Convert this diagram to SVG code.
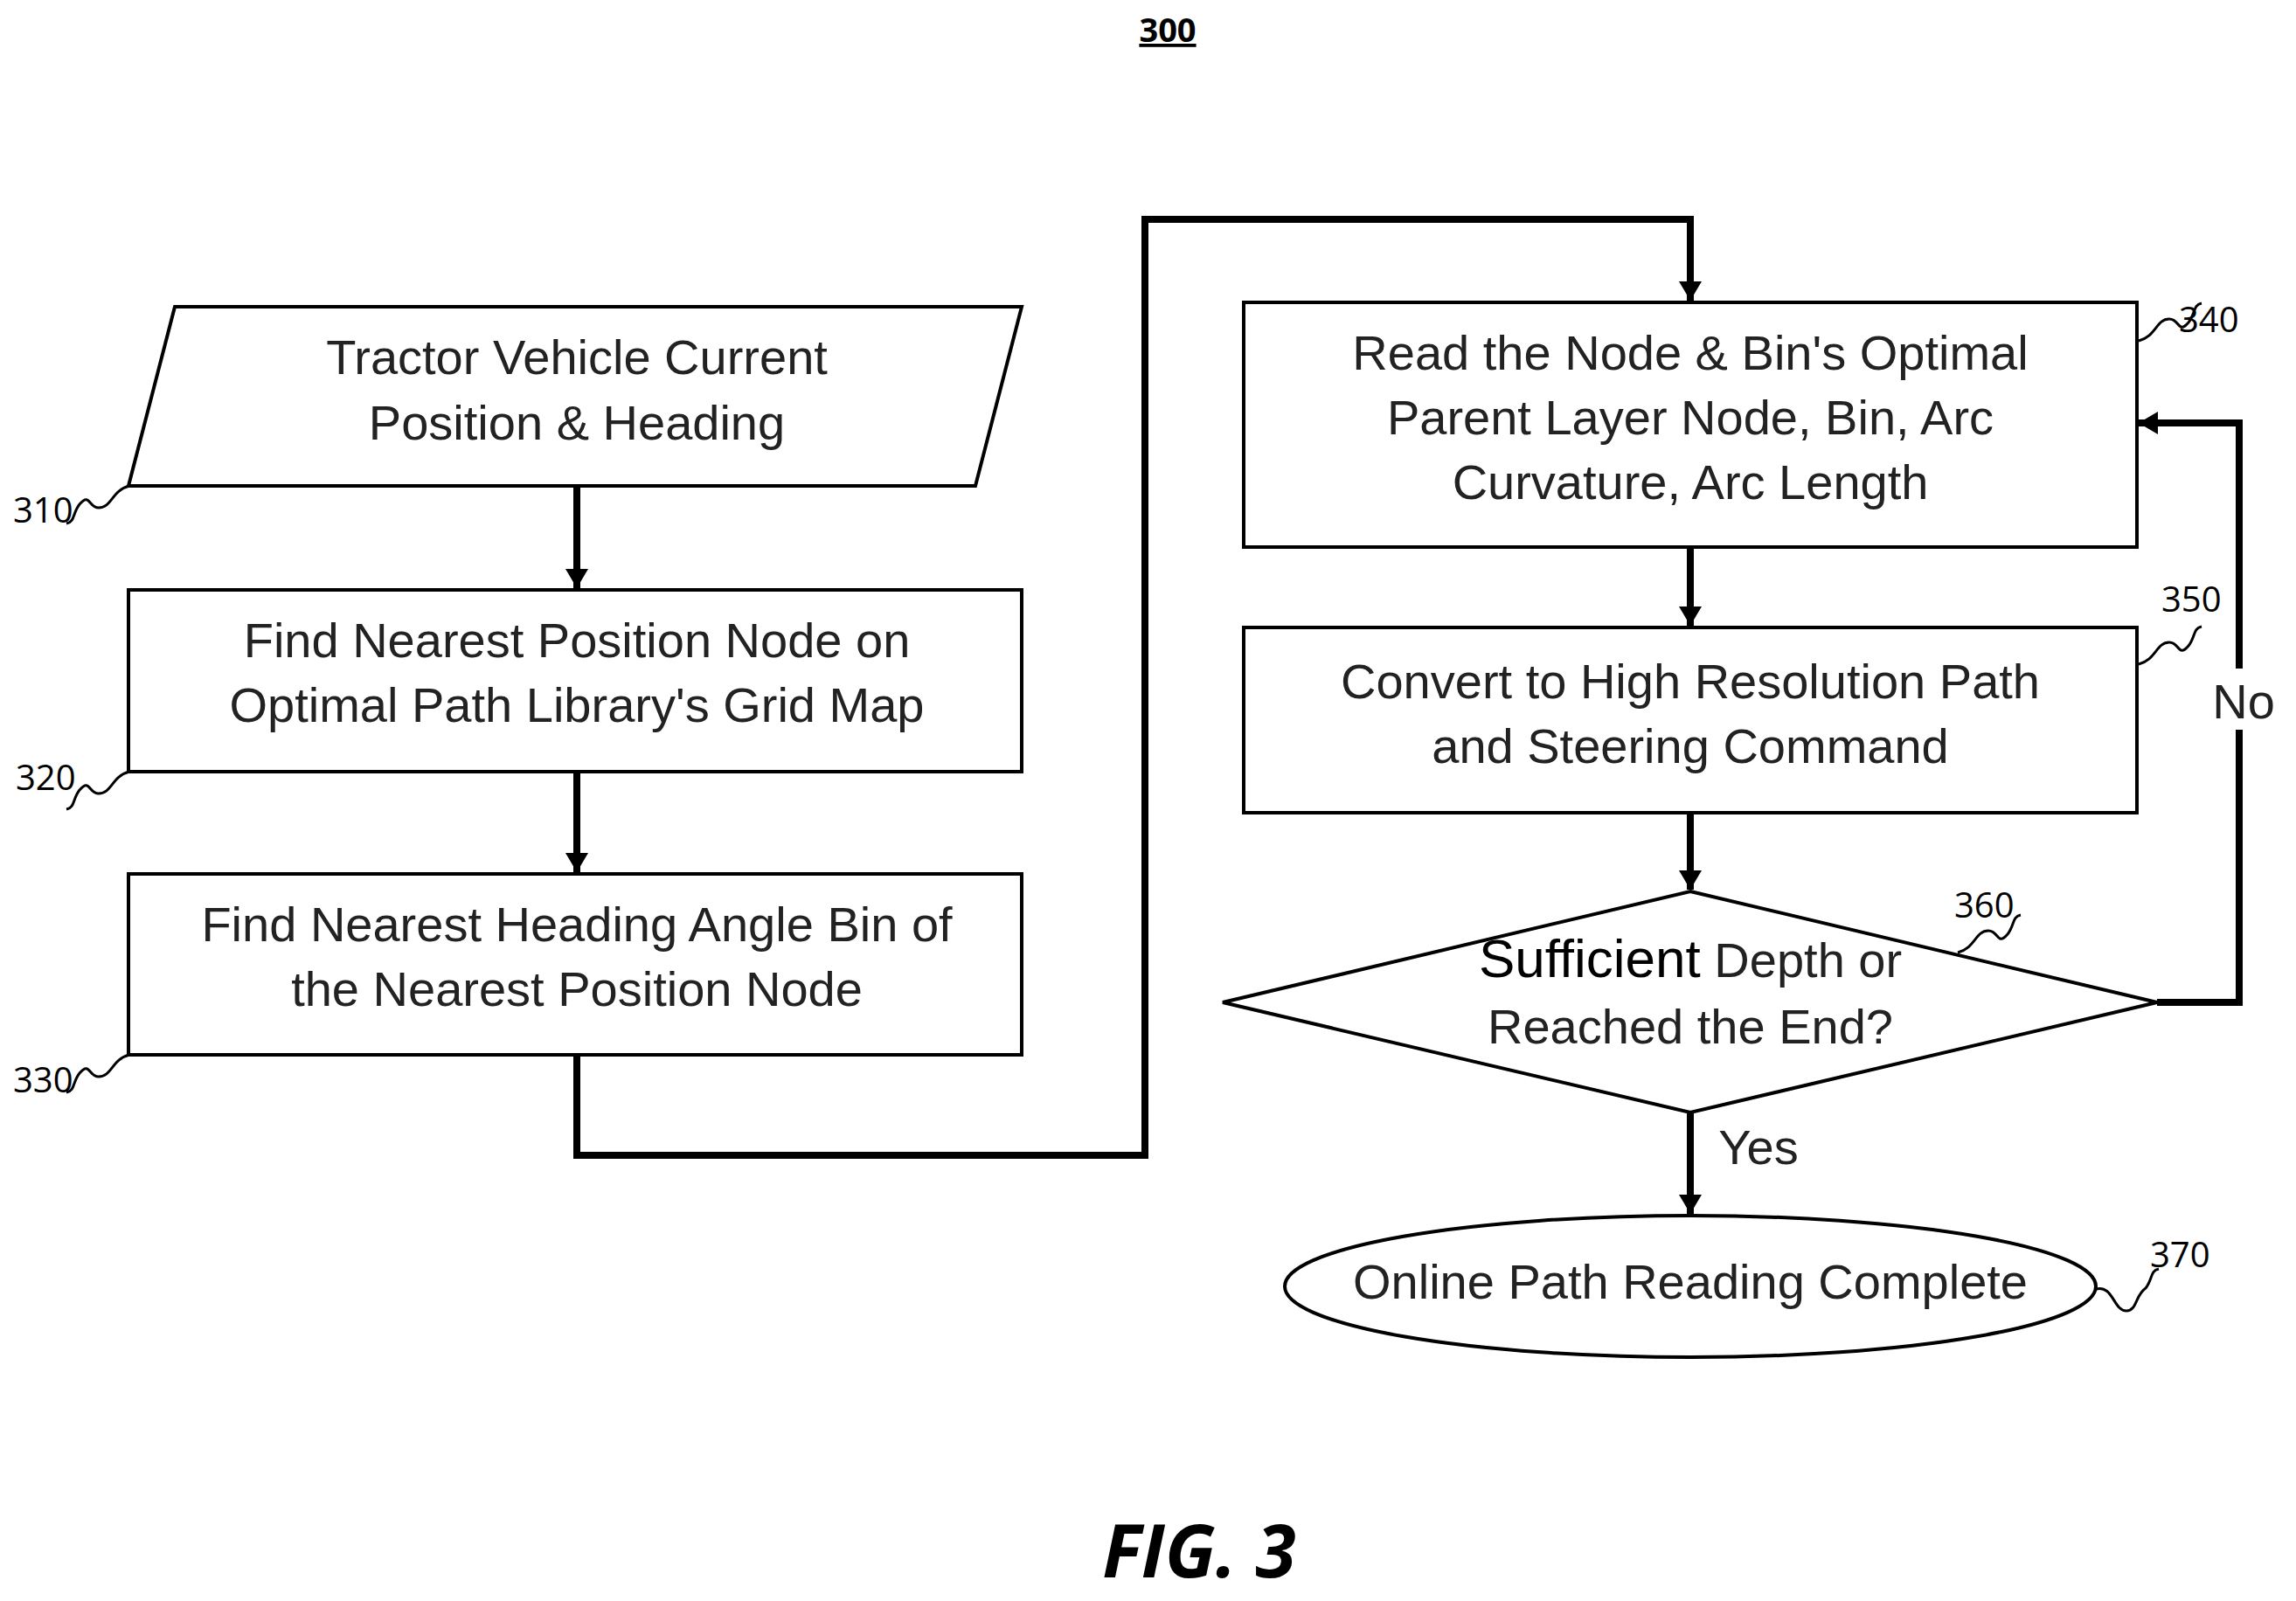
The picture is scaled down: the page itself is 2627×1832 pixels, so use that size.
<svg xmlns="http://www.w3.org/2000/svg" width="2627" height="1832" viewBox="0 0 2627 1832">
<defs>
<marker id="ah" viewBox="0 0 22 26" refX="22" refY="13" markerWidth="22" markerHeight="26" markerUnits="userSpaceOnUse" orient="auto"><path d="M0,0 L22,13 L0,26 z" fill="#000"/></marker>
<style>
.s{fill:#fff;stroke:#000;stroke-width:4}
.t{font-family:"Liberation Sans",Arial,sans-serif;font-size:56px;fill:#222;text-anchor:middle}
.n{font-family:"Open Sans","Liberation Sans",sans-serif;font-size:40px;fill:#000}
.c{fill:none;stroke:#000;stroke-width:8}
.w{fill:none;stroke:#000;stroke-width:3}
</style>
</defs>
<text x="1336" y="48" font-family="Open Sans, Liberation Sans, sans-serif" font-size="38" font-weight="bold" text-anchor="middle" text-decoration="underline">300</text>
<g id="connectors">
<path class="c" d="M660,556 V673" marker-end="url(#ah)"/>
<path class="c" d="M660,883 V998" marker-end="url(#ah)"/>
<path class="c" d="M660,1207 V1322 H1310 V251 H1934 V344" marker-end="url(#ah)"/>
<path class="c" d="M1934,626 V716" marker-end="url(#ah)"/>
<path class="c" d="M1934,930 V1018" marker-end="url(#ah)"/>
<path class="c" d="M2468,1147 H2562 V484 H2447" marker-end="url(#ah)"/>
<path class="c" d="M1934,1273 V1389" marker-end="url(#ah)"/>
<rect x="2532" y="765" width="66" height="70" fill="#fff"/>
<text class="t" x="2567" y="822">No</text>
<text class="t" x="2012" y="1332">Yes</text>
</g>
<g id="n310">
<polygon class="s" points="200,351 1169,351 1116,556 147,556"/>
<text class="t" x="660" y="428">Tractor Vehicle Current</text>
<text class="t" x="660" y="503">Position &amp; Heading</text>
<path class="w" d="M148,556 c-20,5 -20,25 -35,25 c-12,0 -10,-18 -22,-4 c-8,10 -5,20 -15,22"/>
<text class="n" x="15" y="598">310</text>
</g>
<g id="n320">
<rect class="s" x="147" y="675" width="1022" height="208"/>
<text class="t" x="660" y="752">Find Nearest Position Node on</text>
<text class="t" x="660" y="826">Optimal Path Library's Grid Map</text>
<path class="w" d="M148,883 c-20,5 -20,25 -35,25 c-12,0 -10,-18 -22,-4 c-8,10 -5,20 -15,22"/>
<text class="n" x="18" y="904">320</text>
</g>
<g id="n330">
<rect class="s" x="147" y="1000" width="1022" height="207"/>
<text class="t" x="660" y="1077">Find Nearest Heading Angle Bin of</text>
<text class="t" x="660" y="1151">the Nearest Position Node</text>
<path class="w" d="M148,1207 c-20,5 -20,25 -35,25 c-12,0 -10,-18 -22,-4 c-8,10 -5,20 -15,22"/>
<text class="n" x="15" y="1250">330</text>
</g>
<g id="n340">
<rect class="s" x="1423" y="346" width="1022" height="280"/>
<text class="t" x="1934" y="423">Read the Node &amp; Bin's Optimal</text>
<text class="t" x="1934" y="497">Parent Layer Node, Bin, Arc</text>
<text class="t" x="1934" y="571">Curvature, Arc Length</text>
<path class="w" d="M2447,390 c20,-5 20,-25 35,-25 c12,0 10,18 22,4 c8,-10 5,-20 15,-22"/>
<text class="n" x="2493" y="380">340</text>
</g>
<g id="n350">
<rect class="s" x="1423" y="718" width="1022" height="212"/>
<text class="t" x="1934" y="799">Convert to High Resolution Path</text>
<text class="t" x="1934" y="873">and Steering Command</text>
<path class="w" d="M2447,760 c20,-5 20,-25 35,-25 c12,0 10,18 22,4 c8,-10 5,-20 15,-22"/>
<text class="n" x="2473" y="700">350</text>
</g>
<g id="n360">
<polygon class="s" points="1934,1020 2468,1147 1934,1273 1399,1147"/>
<text class="t" x="1934" y="1118"><tspan font-size="62" fill="#000">Sufficient</tspan> Depth or</text>
<text class="t" x="1934" y="1194">Reached the End?</text>
<path class="w" d="M2240,1090 c20,-5 20,-25 35,-25 c12,0 10,18 22,4 c8,-10 5,-20 15,-22"/>
<text class="n" x="2236" y="1050">360</text>
</g>
<g id="n370">
<rect class="s" x="1470" y="1391" width="928" height="162" rx="464" ry="81"/>
<text class="t" x="1934" y="1486">Online Path Reading Complete</text>
<path class="w" d="M2398,1475 c20,-5 20,25 35,25 c12,0 10,-18 22,-26 c8,-10 5,-20 15,-22"/>
<text class="n" x="2460" y="1450">370</text>
</g>
<text x="1372" y="1805" font-family="Open Sans, Liberation Sans, sans-serif" font-size="84" font-weight="bold" font-style="italic" text-anchor="middle">FIG. 3</text>
</svg>
